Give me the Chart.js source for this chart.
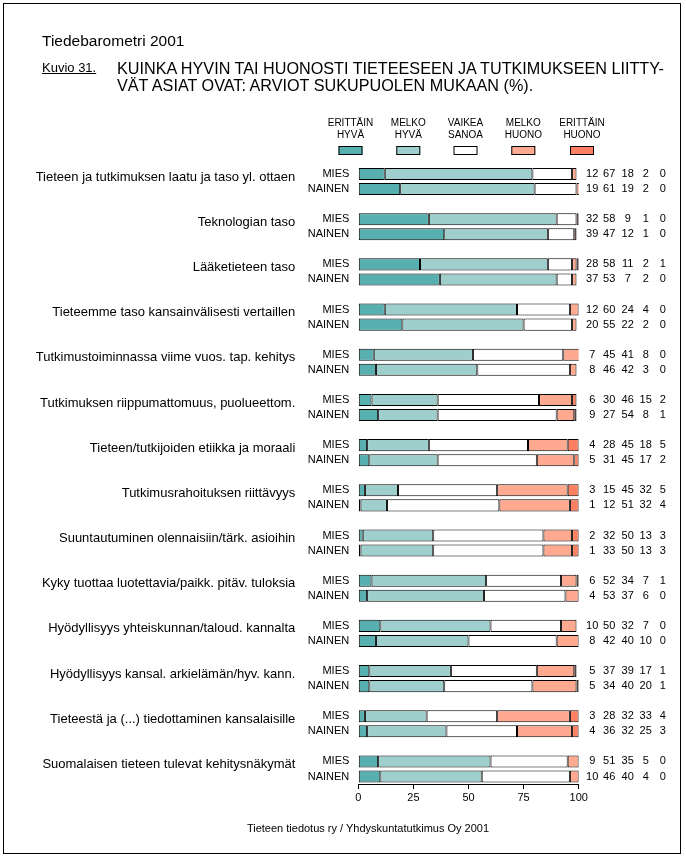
<!DOCTYPE html>
<html>
<head>
<meta charset="utf-8">
<script src="https://cdn.jsdelivr.net/npm/chart.js@4/dist/chart.umd.min.js"></script>
<style>
  body { margin: 0; background: #fff; font-family: "Liberation Sans", Arial, sans-serif; color: #000; }
  #page { position: relative; width: 686px; height: 859px; overflow: hidden; }
  #frame { position: absolute; left: 3px; top: 3px; width: 678px; height: 851px; border: 1px solid #000; box-sizing: border-box; }
  canvas { position: absolute; left: 0; top: 0; }
  .txt { position: absolute; white-space: nowrap; }
  #head { left: 42px; top: 32px; font-size: 15.5px; line-height: 18px; }
  #kuvio { left: 42px; top: 60px; font-size: 13px; line-height: 16px; text-decoration: underline; }
  #title { left: 117px; top: 60px; font-size: 16.2px; line-height: 17px; }
  #source { left: 368px; top: 821px; font-size: 11px; line-height: 14px; transform: translateX(-50%); }
</style>
</head>
<body>
<div id="page">
  <div id="frame"></div>
  <canvas id="chart" width="686" height="859"></canvas>
  <div class="txt" id="head">Tiedebarometri 2001</div>
  <div class="txt" id="kuvio">Kuvio 31.</div>
  <div class="txt" id="title">KUINKA HYVIN TAI HUONOSTI TIETEESEEN JA TUTKIMUKSEEN LIITTY-<br>VÄT ASIAT OVAT: ARVIOT SUKUPUOLEN MUKAAN (%).</div>
  <div class="txt" id="source">Tieteen tiedotus ry / Yhdyskuntatutkimus Oy 2001</div>
</div>
<script>
// Chart data
const categories = [
  'Tieteen ja tutkimuksen laatu ja taso yl. ottaen',
  'Teknologian taso',
  'Lääketieteen taso',
  'Tieteemme taso kansainvälisesti vertaillen',
  'Tutkimustoiminnassa viime vuos. tap. kehitys',
  'Tutkimuksen riippumattomuus, puolueettom.',
  'Tieteen/tutkijoiden etiikka ja moraali',
  'Tutkimusrahoituksen riittävyys',
  'Suuntautuminen olennaisiin/tärk. asioihin',
  'Kyky tuottaa luotettavia/paikk. pitäv. tuloksia',
  'Hyödyllisyys yhteiskunnan/taloud. kannalta',
  'Hyödyllisyys kansal. arkielämän/hyv. kann.',
  'Tieteestä ja (...) tiedottaminen kansalaisille',
  'Suomalaisen tieteen tulevat kehitysnäkymät'
];
const genders = ['MIES', 'NAINEN'];
const ratingNames = [
  ['ERITTÄIN', 'HYVÄ'],
  ['MELKO', 'HYVÄ'],
  ['VAIKEA', 'SANOA'],
  ['MELKO', 'HUONO'],
  ['ERITTÄIN', 'HUONO']
];
const ratingColors = ['#57afaf', '#9ecfcc', '#ffffff', '#ffaa90', '#ff8060'];

// MIES / NAINEN: erittäin hyvä, melko hyvä, vaikea sanoa, melko huono, erittäin huono
const miesValues = [
  [12, 67, 18, 2, 0],
  [32, 58, 9, 1, 0],
  [28, 58, 11, 2, 1],
  [12, 60, 24, 4, 0],
  [7, 45, 41, 8, 0],
  [6, 30, 46, 15, 2],
  [4, 28, 45, 18, 5],
  [3, 15, 45, 32, 5],
  [2, 32, 50, 13, 3],
  [6, 52, 34, 7, 1],
  [10, 50, 32, 7, 0],
  [5, 37, 39, 17, 1],
  [3, 28, 32, 33, 4],
  [9, 51, 35, 5, 0]
];
const nainenValues = [
  [19, 61, 19, 2, 0],
  [39, 47, 12, 1, 0],
  [37, 53, 7, 2, 0],
  [20, 55, 22, 2, 0],
  [8, 46, 42, 3, 0],
  [9, 27, 54, 8, 1],
  [5, 31, 45, 17, 2],
  [1, 12, 51, 32, 4],
  [1, 33, 50, 13, 3],
  [4, 53, 37, 6, 0],
  [8, 42, 40, 10, 0],
  [5, 34, 40, 20, 1],
  [4, 36, 32, 25, 3],
  [10, 46, 40, 4, 0]
];
const xTicks = [0, 25, 50, 75, 100];

// Build rows: MIES, NAINEN and an empty spacer row between groups
const rows = [];
categories.forEach((cat, i) => {
  rows.push({ label: genders[0], vals: miesValues[i], cat: i });
  rows.push({ label: genders[1], vals: nainenValues[i], cat: null });
  if (i < categories.length - 1) rows.push({ label: '', vals: null, cat: null });
});

const datasets = ratingNames.map((name, k) => ({
  label: name.join(' '),
  data: rows.map(r => (r.vals ? r.vals[k] : null)),
  backgroundColor: ratingColors[k],
  borderColor: '#000',
  borderWidth: 1,
  borderSkipped: false,
  barPercentage: 0.8,
  categoryPercentage: 1
}));

const FONT = '"Liberation Sans", Arial, sans-serif';

// Category names, value columns and legend
const annotations = {
  id: 'annotations',
  afterDraw(chart) {
    const ctx = chart.ctx;
    const y = chart.scales.y;
    const area = chart.chartArea;
    ctx.save();
    ctx.fillStyle = '#000';
    ctx.textBaseline = 'middle';

    // value columns
    const colOffsets = [13.5, 30.5, 49, 67, 84];
    ctx.font = '11px ' + FONT;
    ctx.textAlign = 'center';
    rows.forEach((r, i) => {
      if (!r.vals) return;
      const py = y.getPixelForValue(i);
      r.vals.forEach((v, k) => ctx.fillText(String(v), area.right + colOffsets[k], py));
    });

    // category names
    ctx.font = '13px ' + FONT;
    ctx.textAlign = 'right';
    rows.forEach((r, i) => {
      if (r.cat === null) return;
      ctx.fillText(categories[r.cat], area.left - 63, y.getPixelForValue(i) + 3);
    });

    // legend
    const legendX = [350.5, 408.3, 465.5, 523.3, 582];
    ctx.font = '10px ' + FONT;
    ctx.textAlign = 'center';
    ratingNames.forEach((name, k) => {
      ctx.fillText(name[0], legendX[k], 123.5);
      ctx.fillText(name[1], legendX[k], 135.5);
      ctx.fillStyle = ratingColors[k];
      ctx.fillRect(legendX[k] - 12, 146, 24, 9);
      ctx.strokeStyle = '#000';
      ctx.lineWidth = 1;
      ctx.strokeRect(legendX[k] - 11.5, 146.5, 23, 8);
      ctx.fillStyle = '#000';
    });
    ctx.restore();
  }
};

new Chart(document.getElementById('chart'), {
  type: 'bar',
  data: {
    labels: rows.map(r => r.label),
    datasets: datasets
  },
  options: {
    indexAxis: 'y',
    responsive: false,
    animation: false,
    layout: {
      padding: { top: 166.5, right: 107.3, bottom: 55, left: 0 }
    },
    plugins: {
      legend: { display: false },
      tooltip: { enabled: false },
      title: { display: false }
    },
    scales: {
      x: {
        type: 'linear',
        min: 0,
        max: 100,
        stacked: true,
        afterBuildTicks: s => { s.ticks = xTicks.map(v => ({ value: v })); },
        afterFit: s => { s.height = 20; },
        ticks: {
          color: '#000',
          font: { family: FONT, size: 11 },
          padding: 2,
          maxRotation: 0
        },
        grid: {
          drawOnChartArea: false,
          drawTicks: true,
          tickLength: 5,
          color: '#000'
        },
        border: { display: true, color: '#000', width: 1 }
      },
      y: {
        stacked: true,
        afterFit: s => { s.width = 358.3; },
        ticks: {
          autoSkip: false,
          color: '#000',
          font: { family: FONT, size: 11 },
          padding: 9
        },
        grid: { display: false, drawTicks: false },
        border: { display: false }
      }
    }
  },
  plugins: [annotations]
});
</script>
</body>
</html>
